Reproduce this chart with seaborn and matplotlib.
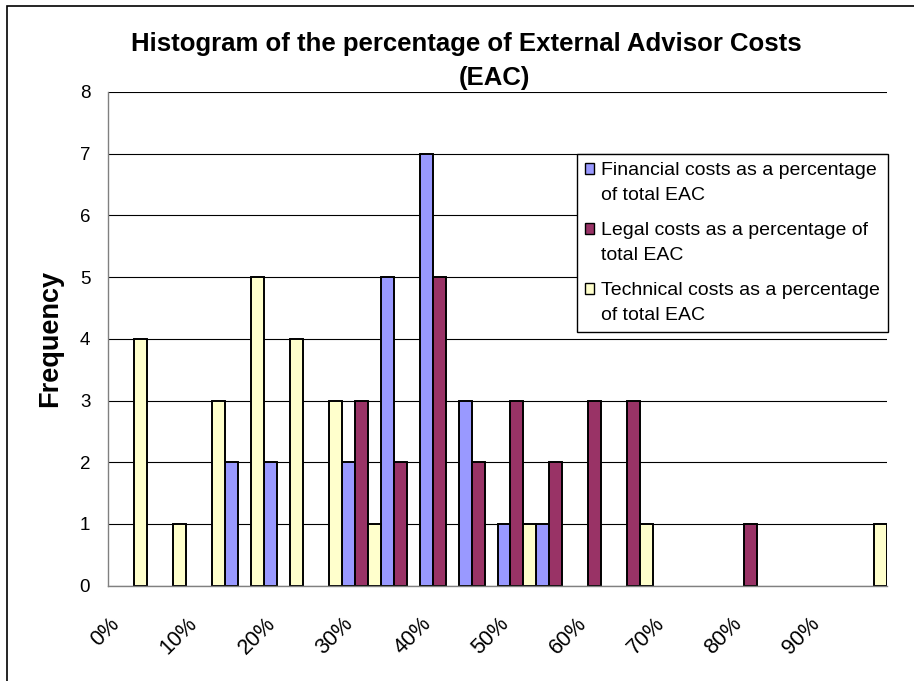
import numpy as np
import pandas as pd
import seaborn as sns
import matplotlib.pyplot as plt
from matplotlib.patches import Rectangle, Patch
from matplotlib.legend_handler import HandlerPatch
from matplotlib.transforms import ScaledTranslation

# Histogram bins (lower bound of each 5% class)
bins = ["0%", "5%", "10%", "15%", "20%", "25%", "30%", "35%", "40%", "45%",
        "50%", "55%", "60%", "65%", "70%", "75%", "80%", "85%", "90%", "95%"]

# Frequencies per bin for each cost type
financial = [0, 0, 0, 2, 2, 0, 2, 5, 7, 3, 1, 1, 0, 0, 0, 0, 0, 0, 0, 0]
legal = [0, 0, 0, 0, 0, 0, 3, 2, 5, 2, 3, 2, 3, 3, 0, 0, 1, 0, 0, 0]
technical = [4, 1, 3, 5, 4, 3, 1, 0, 0, 0, 1, 0, 0, 1, 0, 0, 0, 0, 0, 1]

series_names = [
    "Financial costs as a percentage\nof total EAC",
    "Legal costs as a percentage of\ntotal EAC",
    "Technical costs as a percentage\nof total EAC",
]
series_colors = ["#9999FF", "#993366", "#FFFFCC"]

# Axis label text (every other bin is labelled)
xtick_labels = bins[::2]
yticks = [0, 1, 2, 3, 4, 5, 6, 7, 8]

title_line1 = "Histogram of the percentage of External Advisor Costs"
title_line2 = "(EAC)"
ylabel = "Frequency"

records = []
for name, values in zip(series_names, [financial, legal, technical]):
    for b, v in zip(bins, values):
        if v > 0:
            records.append({"bin": b, "freq": v, "series": name})
df = pd.DataFrame(records)

sns.set_style("white")
plt.rcParams["font.family"] = ["Liberation Sans", "DejaVu Sans"]
for key in ["text.color", "axes.labelcolor", "xtick.color", "ytick.color"]:
    plt.rcParams[key] = "black"

W, H = 914, 681
fig = plt.figure(figsize=(W / 100, H / 100), dpi=100)
x0, x1, y0, y1 = 108.3, 886.7, 92.0, 585.7
ax = fig.add_axes([x0 / W, 1 - y1 / H, (x1 - x0) / W, (y1 - y0) / H])

sns.barplot(data=df, x="bin", y="freq", hue="series", order=bins,
            hue_order=series_names, palette=series_colors, width=1.0,
            edgecolor="black", linewidth=1.4, saturation=1, legend=False,
            ax=ax)

ax.set_xlim(-0.5, len(bins) - 0.5)
ax.set_ylim(0, 8)
ax.set_xlabel("")
ax.set_ylabel("")

# horizontal gridlines
ax.set_axisbelow(True)
ax.yaxis.grid(True, color="black", linewidth=0.8)
ax.xaxis.grid(False)

for s in ["top", "right"]:
    ax.spines[s].set_visible(False)
for s in ["left", "bottom"]:
    ax.spines[s].set_color("#808080")
    ax.spines[s].set_linewidth(1.0)

# y axis
ax.set_yticks(yticks)
ax.set_yticklabels([str(v) for v in yticks])
ax.tick_params(axis="y", direction="out", length=5, width=1, color="#808080",
               labelcolor="black", labelsize=13.5, pad=8)

# x axis: ticks on bin boundaries, labels under every other bin
ax.set_xticks(np.arange(-0.5, len(bins), 1.0))
ax.set_xticklabels([])
ax.tick_params(axis="x", which="major", direction="out", length=5, width=1,
               color="#808080")
ax.set_xticks(np.arange(0, len(bins), 2), minor=True)
ax.set_xticklabels(xtick_labels, minor=True, rotation=45, ha="right")
ax.tick_params(axis="x", which="minor", length=0, labelsize=15.5, pad=20,
               labelcolor="black")
shift = ScaledTranslation(-4 / 100, 0, fig.dpi_scale_trans)
for lab in ax.get_xticklabels(minor=True):
    lab.set_transform(lab.get_transform() + shift)


class FirstLinePatch(HandlerPatch):
    """Square legend key placed beside the first line of a two-line label."""

    def __init__(self, lift, **kw):
        super().__init__(**kw)
        self.lift = lift

    def create_artists(self, legend, orig_handle, xdescent, ydescent,
                       width, height, fontsize, trans):
        p = Rectangle((-xdescent, -ydescent + self.lift), width, height,
                      facecolor=orig_handle.get_facecolor(),
                      edgecolor=orig_handle.get_edgecolor(),
                      linewidth=orig_handle.get_linewidth(), transform=trans)
        return [p]


# legend
handles = [Patch(facecolor=c, edgecolor="black", linewidth=1.0)
           for c in series_colors]
leg = ax.legend(handles, series_names, loc="upper right",
                bbox_to_anchor=(888 / W, 1 - 154 / H),
                bbox_transform=fig.transFigure, frameon=True, fancybox=False,
                framealpha=1, edgecolor="black", fontsize=14,
                handlelength=0.45, handleheight=0.45, handletextpad=0.4,
                borderpad=0.4, labelspacing=0.9, borderaxespad=0,
                handler_map={Patch: FirstLinePatch(lift=10)})
leg.get_frame().set_linewidth(1.0)
for t in leg.get_texts():
    t.set_linespacing(1.65)

# titles and y label
fig.text(466 / W, 1 - 51 / H, title_line1, ha="center", va="baseline",
         fontsize=18.5, fontweight="bold")
fig.text(494 / W, 1 - 85 / H, title_line2, ha="center", va="baseline",
         fontsize=18.5, fontweight="bold")
fig.text(50 / W, 1 - 338 / H, ylabel, rotation=90, ha="center", va="center",
         fontsize=19.5, fontweight="bold")

# chart area border
fig.add_artist(Rectangle((6.5 / W, -0.1), 2, (H - 6.5) / H + 0.1,
                         transform=fig.transFigure, fill=False,
                         edgecolor="black", linewidth=1.2))

fig.savefig("out.png", dpi=100)
